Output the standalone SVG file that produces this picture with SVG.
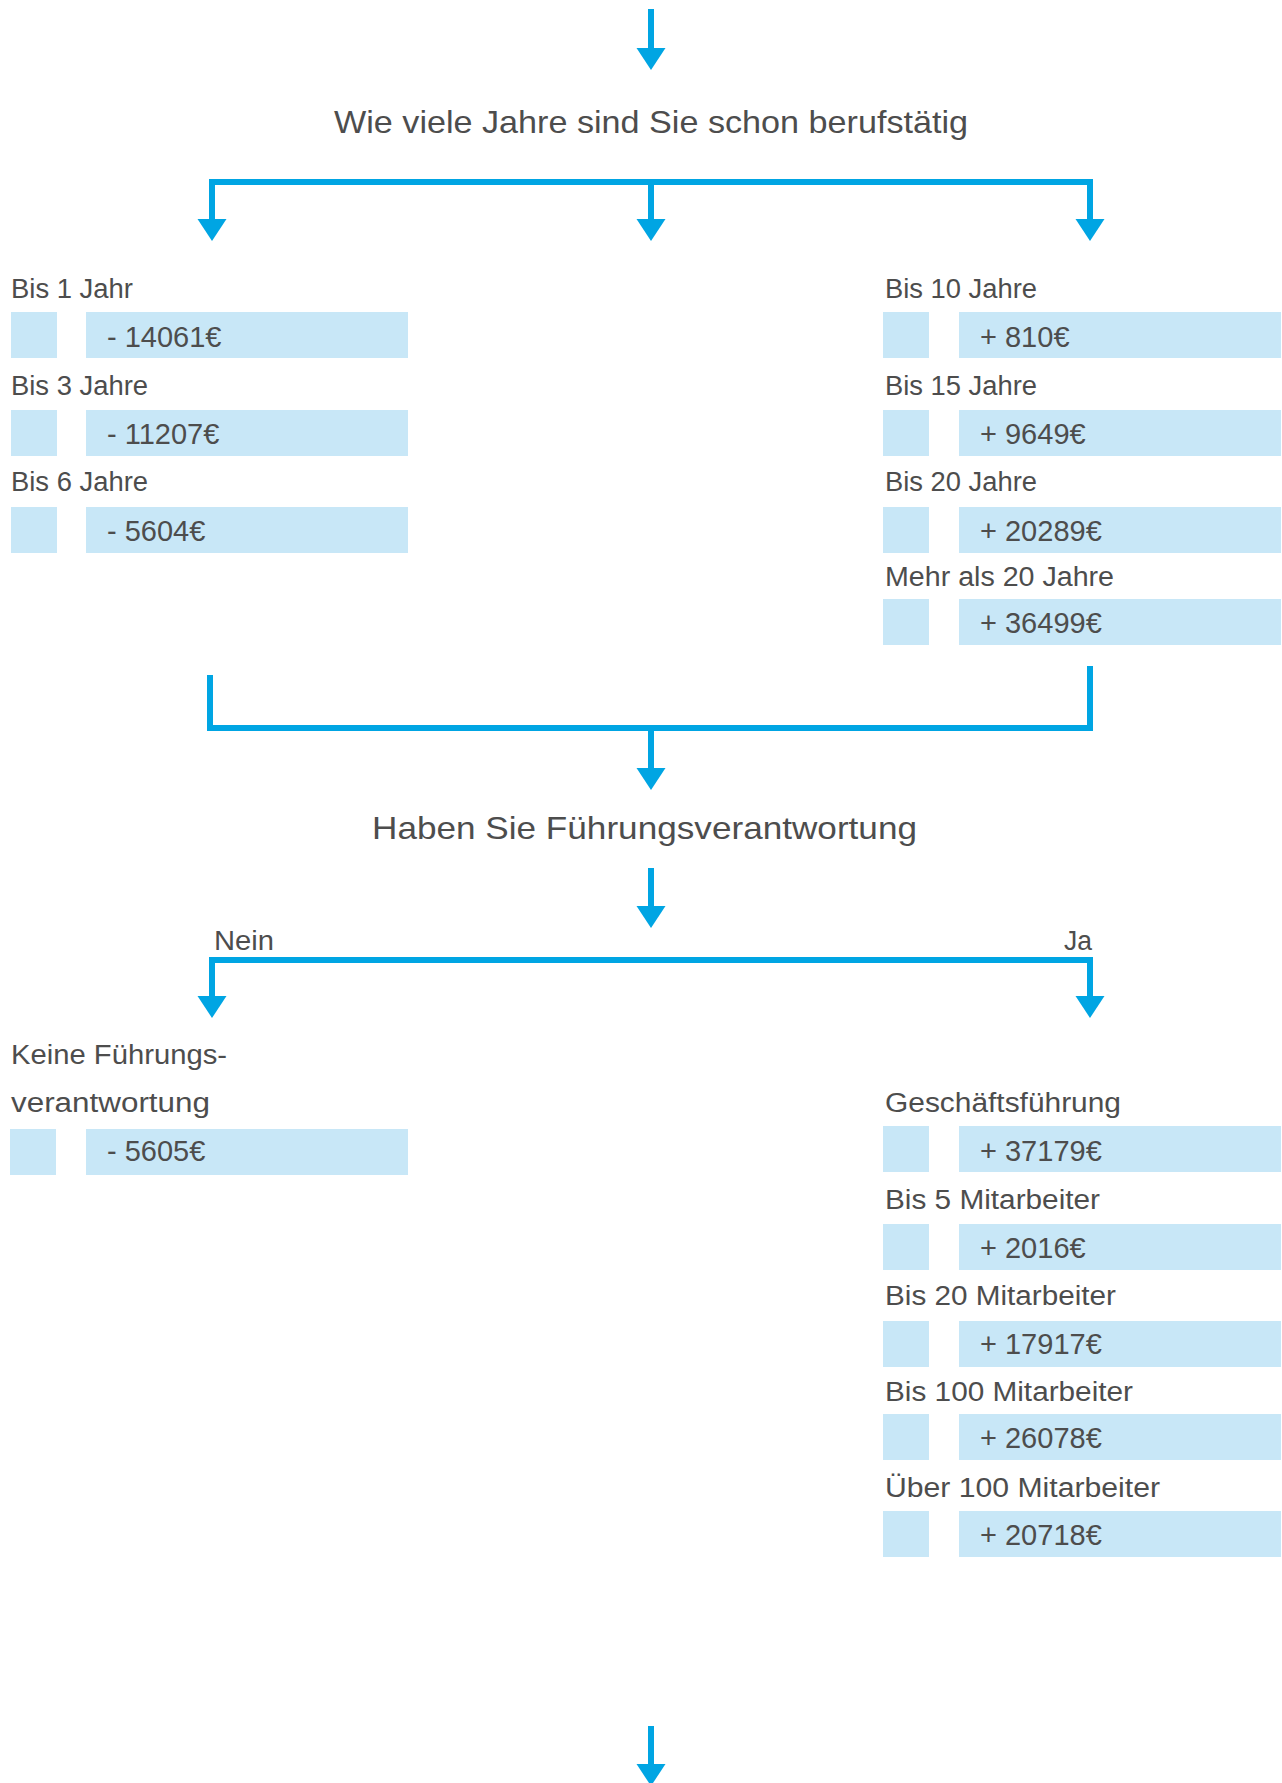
<svg xmlns="http://www.w3.org/2000/svg" width="1282" height="1783" viewBox="0 0 1282 1783">
  <style>
    .conn { fill: none; stroke: #00A5E3; stroke-width: 6; stroke-linejoin: miter; stroke-linecap: butt; }
    .box { fill: #C8E7F7; }
    .q { font-family: "Liberation Sans", Arial, sans-serif; font-size: 32px; fill: #4D4D4D; }
    .lbl { font-family: "Liberation Sans", Arial, sans-serif; font-size: 27px; fill: #4D4D4D; }
    .val { font-family: "Liberation Sans", Arial, sans-serif; font-size: 29px; fill: #4D4D4D; }
  </style>
  <defs>
    <marker id="ah" markerUnits="userSpaceOnUse" viewBox="0 -15 22 30" refX="1" refY="0" markerWidth="22" markerHeight="30" orient="auto">
      <path d="M0,-14.5 L22,0 L0,14.5 Z" fill="#00A5E3"/>
    </marker>
  </defs>
  <rect width="1282" height="1783" fill="#FFFFFF"/>

  <g id="connectors">
    <path class="conn" d="M651,9 V49" marker-end="url(#ah)"/>
    <path class="conn" d="M209,182 H1093"/>
    <path class="conn" d="M212,182 V220" marker-end="url(#ah)"/>
    <path class="conn" d="M651,182 V220" marker-end="url(#ah)"/>
    <path class="conn" d="M1090,182 V220" marker-end="url(#ah)"/>
    <path class="conn" d="M210,675 V728 H1090 V666"/>
    <path class="conn" d="M651,728 V769" marker-end="url(#ah)"/>
    <path class="conn" d="M651,868 V907" marker-end="url(#ah)"/>
    <path class="conn" d="M209,960 H1093"/>
    <path class="conn" d="M212,960 V997" marker-end="url(#ah)"/>
    <path class="conn" d="M1090,960 V997" marker-end="url(#ah)"/>
    <path class="conn" d="M651,1726 V1765" marker-end="url(#ah)"/>
  </g>

  <g id="q-berufstaetig">
    <text class="q" x="651" y="133" text-anchor="middle" textLength="634" lengthAdjust="spacingAndGlyphs">Wie viele Jahre sind Sie schon berufstätig</text>
  </g>

  <g id="bis1">
    <text class="lbl" x="11" y="298" textLength="122" lengthAdjust="spacingAndGlyphs">Bis 1 Jahr</text>
    <rect class="box" x="11" y="312" width="46" height="46"/>
    <rect class="box" x="86" y="312" width="322" height="46"/>
    <text class="val" x="107" y="347">- 14061€</text>
  </g>
  <g id="bis3">
    <text class="lbl" x="11" y="395" textLength="137" lengthAdjust="spacingAndGlyphs">Bis 3 Jahre</text>
    <rect class="box" x="11" y="410" width="46" height="46"/>
    <rect class="box" x="86" y="410" width="322" height="46"/>
    <text class="val" x="107" y="444">- 11207€</text>
  </g>
  <g id="bis6">
    <text class="lbl" x="11" y="491" textLength="137" lengthAdjust="spacingAndGlyphs">Bis 6 Jahre</text>
    <rect class="box" x="11" y="507" width="46" height="46"/>
    <rect class="box" x="86" y="507" width="322" height="46"/>
    <text class="val" x="107" y="541">- 5604€</text>
  </g>

  <g id="bis10">
    <text class="lbl" x="885" y="298" textLength="152" lengthAdjust="spacingAndGlyphs">Bis 10 Jahre</text>
    <rect class="box" x="883" y="312" width="46" height="46"/>
    <rect class="box" x="959" y="312" width="322" height="46"/>
    <text class="val" x="980" y="347">+ 810€</text>
  </g>
  <g id="bis15">
    <text class="lbl" x="885" y="395" textLength="152" lengthAdjust="spacingAndGlyphs">Bis 15 Jahre</text>
    <rect class="box" x="883" y="410" width="46" height="46"/>
    <rect class="box" x="959" y="410" width="322" height="46"/>
    <text class="val" x="980" y="444">+ 9649€</text>
  </g>
  <g id="bis20">
    <text class="lbl" x="885" y="491" textLength="152" lengthAdjust="spacingAndGlyphs">Bis 20 Jahre</text>
    <rect class="box" x="883" y="507" width="46" height="46"/>
    <rect class="box" x="959" y="507" width="322" height="46"/>
    <text class="val" x="980" y="541">+ 20289€</text>
  </g>
  <g id="mehr20">
    <text class="lbl" x="885" y="586" textLength="229" lengthAdjust="spacingAndGlyphs">Mehr als 20 Jahre</text>
    <rect class="box" x="883" y="599" width="46" height="46"/>
    <rect class="box" x="959" y="599" width="322" height="46"/>
    <text class="val" x="980" y="633">+ 36499€</text>
  </g>

  <g id="q-fuehrung">
    <text class="q" x="372" y="839" textLength="545" lengthAdjust="spacingAndGlyphs">Haben Sie Führungsverantwortung</text>
  </g>
  <g id="lbl-nein">
    <text class="lbl" x="214" y="950" textLength="60" lengthAdjust="spacingAndGlyphs">Nein</text>
  </g>
  <g id="lbl-ja">
    <text class="lbl" x="1064" y="950" textLength="28" lengthAdjust="spacingAndGlyphs">Ja</text>
  </g>

  <g id="keine">
    <text class="lbl" x="11" y="1064" textLength="216" lengthAdjust="spacingAndGlyphs">Keine Führungs-</text>
    <text class="lbl" x="11" y="1112" textLength="199" lengthAdjust="spacingAndGlyphs">verantwortung</text>
    <rect class="box" x="10" y="1129" width="46" height="46"/>
    <rect class="box" x="86" y="1129" width="322" height="46"/>
    <text class="val" x="107" y="1161">- 5605€</text>
  </g>

  <g id="gf">
    <text class="lbl" x="885" y="1112" textLength="236" lengthAdjust="spacingAndGlyphs">Geschäftsführung</text>
    <rect class="box" x="883" y="1126" width="46" height="46"/>
    <rect class="box" x="959" y="1126" width="322" height="46"/>
    <text class="val" x="980" y="1161">+ 37179€</text>
  </g>
  <g id="ma5">
    <text class="lbl" x="885" y="1209" textLength="215" lengthAdjust="spacingAndGlyphs">Bis 5 Mitarbeiter</text>
    <rect class="box" x="883" y="1224" width="46" height="46"/>
    <rect class="box" x="959" y="1224" width="322" height="46"/>
    <text class="val" x="980" y="1258">+ 2016€</text>
  </g>
  <g id="ma20">
    <text class="lbl" x="885" y="1305" textLength="231" lengthAdjust="spacingAndGlyphs">Bis 20 Mitarbeiter</text>
    <rect class="box" x="883" y="1321" width="46" height="46"/>
    <rect class="box" x="959" y="1321" width="322" height="46"/>
    <text class="val" x="980" y="1354">+ 17917€</text>
  </g>
  <g id="ma100">
    <text class="lbl" x="885" y="1401" textLength="248" lengthAdjust="spacingAndGlyphs">Bis 100 Mitarbeiter</text>
    <rect class="box" x="883" y="1414" width="46" height="46"/>
    <rect class="box" x="959" y="1414" width="322" height="46"/>
    <text class="val" x="980" y="1448">+ 26078€</text>
  </g>
  <g id="ma100plus">
    <text class="lbl" x="885" y="1497" textLength="275" lengthAdjust="spacingAndGlyphs">Über 100 Mitarbeiter</text>
    <rect class="box" x="883" y="1511" width="46" height="46"/>
    <rect class="box" x="959" y="1511" width="322" height="46"/>
    <text class="val" x="980" y="1545">+ 20718€</text>
  </g>
</svg>
